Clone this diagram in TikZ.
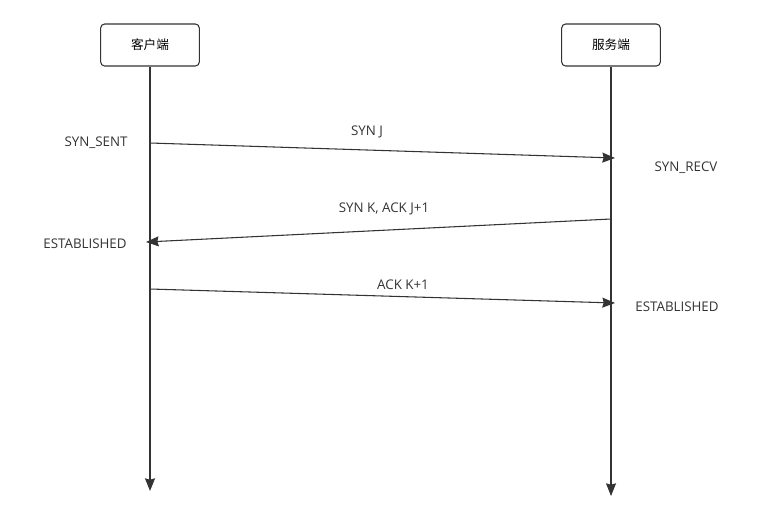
\documentclass[tikz,border=0pt]{standalone}
\usepackage{fontspec}
\setmainfont{Open Sans}
\newfontfamily\cjk{Noto Sans CJK SC}
\usetikzlibrary{arrows.meta}

\definecolor{linegray}{HTML}{333333}

\tikzset{
    party/.style={draw=linegray, thick, rounded corners=3pt, minimum width=74pt, minimum height=31.5pt, font=\cjk\fontsize{9.5}{11}\selectfont},
    lifeline/.style={draw=linegray, thick, -{Stealth[length=9.5pt, width=7.5pt, inset=1pt]}},
    msg/.style={draw=linegray, thick, -{Stealth[length=9.5pt, width=7.5pt, inset=1pt]}},
    state/.style={font=\fontsize{10}{12}\selectfont, text=linegray}
}

\begin{document}
\begin{tikzpicture}[x=0.75pt, y=-0.75pt]

    \useasboundingbox (0,0) rectangle (771,515);

    % participants
    \node[party] (client) at (150,45) {客户端};
    \node[party] (server) at (611,45) {服务端};

    \coordinate (clientend) at (150,491);
    \coordinate (serverend) at (611,496);
    \draw[lifeline] (client) -- (clientend);
    \draw[lifeline] (server) -- (serverend);

    % message end points on the lifelines
    \coordinate (c1) at (150,143);
    \coordinate (s1) at (615,158);
    \coordinate (s2) at (611,219);
    \coordinate (c2) at (146,242);
    \coordinate (c3) at (150,289);
    \coordinate (s3) at (615,303);

    \draw[msg] (c1) -- (s1);
    \draw[msg] (s2) -- (c2);
    \draw[msg] (c3) -- (s3);

    % message labels
    \node[state] (m1) at (367,132) {SYN J};
    \node[state] (m2) at (384,209) {SYN K, ACK J+1};
    \node[state] (m3) at (403,285) {ACK K+1};

    % states
    \node[state] (sent) at (96,143) {SYN\_SENT};
    \node[state] (recv) at (686,168) {SYN\_RECV};
    \node[state] (estc) at (85,244) {ESTABLISHED};
    \node[state] (ests) at (677,307) {ESTABLISHED};

\end{tikzpicture}
\end{document}
